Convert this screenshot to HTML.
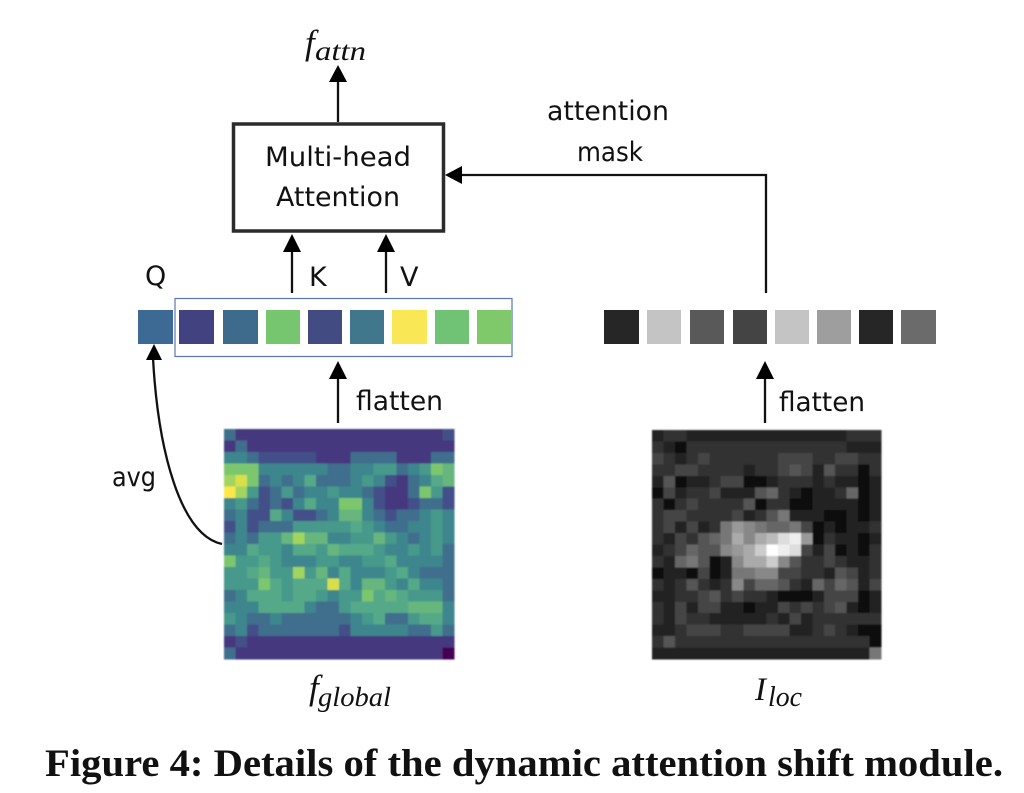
<!DOCTYPE html>
<html><head><meta charset="utf-8"><style>
html,body{margin:0;padding:0;background:#fff}
svg{display:block}
.t{font-family:"DejaVu Sans",sans-serif;font-size:27px;fill:#111}
.m{font-family:"Liberation Serif",serif;font-style:italic;fill:#111}
</style></head><body>
<svg id="s" xmlns="http://www.w3.org/2000/svg" width="1024" height="793" viewBox="0 0 1024 793">
<defs><filter id="b" x="-2%" y="-2%" width="104%" height="104%"><feGaussianBlur stdDeviation="0.9"/></filter></defs>
<rect width="1024" height="793" fill="#fff"/>
<g id="h1" filter="url(#b)" shape-rendering="crispEdges"></g>
<g id="h2" filter="url(#b)" shape-rendering="crispEdges"></g>

<rect x="233.500" y="124" width="210" height="107" fill="#fff" stroke="#2b2b2b" stroke-width="3.500"/>
<text class="t" x="265" y="166" textLength="146" lengthAdjust="spacingAndGlyphs">Multi-head</text>
<text class="t" x="276" y="206" textLength="124" lengthAdjust="spacingAndGlyphs">Attention</text>

<g stroke="#111" stroke-width="2.300" fill="none">
<path d="M338 122V80"/><path d="M292 293V250"/><path d="M386 293V250"/>
<path d="M338 423V378"/><path d="M765 423V378"/>
<path d="M766 293V175H458"/>
<path d="M222 544C180 535 158 450 153 358"/>
</g>
<g fill="#000">
<path d="M338 65L329 82H347Z"/><path d="M292 234L283 252H301Z"/><path d="M386 234L377 252H395Z"/>
<path d="M338 361L329 379H347Z"/><path d="M765 361L756 379H774Z"/>
<path d="M445 175L462 166V184Z"/><path d="M154 344L146 360H162Z"/>
</g>

<rect x="175" y="298.500" width="337" height="58" fill="none" stroke="#5b75b5" stroke-width="1.200"/>
<g>
<rect x="138" y="310" width="35" height="34" fill="#3c6a94"/>
<rect x="179" y="310" width="35" height="34" fill="#41427f"/>
<rect x="223" y="310" width="35" height="34" fill="#3e6b8c"/>
<rect x="266" y="310" width="34" height="34" fill="#76c56f"/>
<rect x="308" y="310" width="34" height="34" fill="#434c82"/>
<rect x="350" y="310" width="34" height="34" fill="#41778c"/>
<rect x="392" y="310" width="35" height="34" fill="#fae755"/>
<rect x="435" y="310" width="34" height="34" fill="#70c274"/>
<rect x="477" y="310" width="34" height="34" fill="#7fc96b"/>
<rect x="604" y="310" width="35" height="34" fill="#262626"/>
<rect x="647" y="310" width="34" height="34" fill="#c4c4c4"/>
<rect x="690" y="310" width="34" height="34" fill="#595959"/>
<rect x="733" y="310" width="34" height="34" fill="#444444"/>
<rect x="775" y="310" width="34" height="34" fill="#c4c4c4"/>
<rect x="817" y="310" width="34" height="34" fill="#9e9e9e"/>
<rect x="859" y="310" width="34" height="34" fill="#262626"/>
<rect x="901" y="310" width="35" height="34" fill="#6b6b6b"/>
</g>

<text class="t" x="145" y="285">Q</text>
<text class="t" x="309" y="286">K</text>
<text class="t" x="400" y="286">V</text>
<text class="t" x="356" y="410" textLength="87" lengthAdjust="spacingAndGlyphs">flatten</text>
<text class="t" x="779" y="411" textLength="86" lengthAdjust="spacingAndGlyphs">flatten</text>
<text class="t" x="112" y="486" textLength="44" lengthAdjust="spacingAndGlyphs">avg</text>
<text class="t" x="547" y="120" textLength="122" lengthAdjust="spacingAndGlyphs">attention</text>
<text class="t" x="577" y="161" textLength="66" lengthAdjust="spacingAndGlyphs">mask</text>

<text class="m" x="305" y="54" font-size="35">f</text>
<text class="m" x="315" y="60" font-size="27" textLength="51" lengthAdjust="spacingAndGlyphs">attn</text>
<text class="m" x="309" y="699" font-size="35">f</text>
<text class="m" x="318" y="706" font-size="27" textLength="73" lengthAdjust="spacingAndGlyphs">global</text>
<text class="m" x="755" y="700" font-size="33">I</text>
<text class="m" x="768" y="706" font-size="28" textLength="34" lengthAdjust="spacingAndGlyphs">loc</text>

<text x="45" y="776" font-family="'Liberation Serif',serif" font-weight="bold" font-size="39" fill="#111" textLength="958" lengthAdjust="spacingAndGlyphs">Figure 4: Details of the dynamic attention shift module.</text>

<script>
var NS="http://www.w3.org/2000/svg";
var pal={z:"#440154","0":"#45377f","1":"#435088","2":"#3f6e8d","3":"#3e868d","4":"#47998b","5":"#55a988","6":"#66b67d","7":"#7cc76d","8":"#a2d55e","9":"#d8e04a",A:"#fde74c"};
var a=["20000000000000000001","02000000000000000000","33211111000222200022","77733333322334423476","89723235222343102356","A8412423343321002741","34212135337731001221","23115311236632122343","13122244444543223343","23244686633446432343","33544355465554334342","74454333443344533332","44564484635333453222","44475455595366435332","23555455434475654442","33355553224555556663","43223222222345224553","23122222221333332242","01000000000000000000","2000000000000000000z"];
var g=["23322222222222222333","32133333333333333222","43234333333444334433","33443333233454253313","25122344112333232212","04233422256321223612","31343333513311222212","34433334235722211212","34242379876674121223","3243567a8abde9032212","23465589acfed4241213","32675128aac853343223","12214127788443325423","32353238466532646524","22334534332110244402","32424422122434345212","32433222223242333333","22344433444422343211","35333333333333333331","22222222222222222227"];
function draw(id,rows,x0,y0,w,f){var p=document.getElementById(id);rows.forEach(function(r,j){for(var i=0;i<20;i++){var c=document.createElementNS(NS,"rect");c.setAttribute("x",x0+i*w);c.setAttribute("y",y0+j*w);c.setAttribute("width",w+.5);c.setAttribute("height",w+.5);c.setAttribute("fill",f(r[i]||"2"));p.appendChild(c);}});}
draw("h1",a,224,429,11.5,function(c){return pal[c]});
draw("h2",g,652,430,11.45,function(c){var v=parseInt(c,16)*17;if(c=="0")v=8;return "rgb("+v+","+v+","+v+")"});
</script>
</svg>
</body></html>
